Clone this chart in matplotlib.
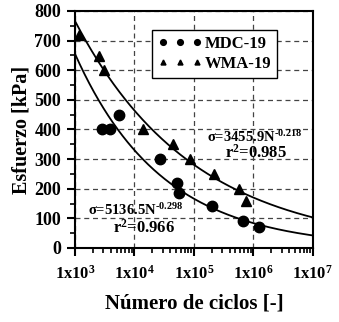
import numpy as np
import matplotlib
matplotlib.use("Agg")
import matplotlib.pyplot as plt
from matplotlib.ticker import FixedLocator, LogLocator, NullFormatter, MultipleLocator

plt.rcParams['font.family'] = ['Liberation Serif', 'DejaVu Serif']
plt.rcParams['font.weight'] = 'bold'
plt.rcParams['mathtext.fontset'] = 'custom'
plt.rcParams['mathtext.rm'] = 'Liberation Serif:bold'
plt.rcParams['mathtext.bf'] = 'Liberation Serif:bold'
plt.rcParams['mathtext.it'] = 'Liberation Serif:bold:italic'

# MDC-19 data (circles)
mdc_n = [2.9e3, 3.9e3, 5.5e3, 2.7e4, 5.1e4, 5.6e4, 2.05e5, 6.7e5, 1.26e6]
mdc_s = [400, 400, 450, 300, 220, 185, 140, 92, 70]
# WMA-19 data (triangles)
wma_n = [1.17e3, 2.5e3, 3.1e3, 1.4e4, 4.5e4, 8.7e4, 2.2e5, 5.8e5, 7.4e5]
wma_s = [720, 648, 600, 400, 350, 300, 250, 200, 160]

# fitted power laws
mdc_a, mdc_b = 5136.5, -0.298
wma_a, wma_b = 3455.9, -0.218

xticks = [1e3, 1e4, 1e5, 1e6, 1e7]
xtick_labels = [r'$\mathregular{1x10^{%d}}$' % e for e in range(3, 8)]

fig = plt.figure(figsize=(3.39, 3.22), dpi=100)
ax = fig.add_axes([0.221, 0.230, 0.702, 0.736])

nn = np.logspace(3, 7, 300)
ax.plot(nn, wma_a * nn ** wma_b, color='black', lw=1.3)
ax.plot(nn, mdc_a * nn ** mdc_b, color='black', lw=1.3)

ax.plot(mdc_n, mdc_s, 'o', color='black', ms=7.5, label='MDC-19', zorder=3)
ax.plot(wma_n, wma_s, '^', color='black', ms=6.5, label='WMA-19', zorder=3)

ax.set_xscale('log')
ax.set_xlim(1e3, 1e7)
ax.set_ylim(0, 800)
ax.xaxis.set_major_locator(FixedLocator(xticks))
ax.set_xticklabels(xtick_labels)
ax.xaxis.set_minor_locator(LogLocator(base=10, subs=np.arange(2, 10), numticks=20))
ax.xaxis.set_minor_formatter(NullFormatter())
ax.yaxis.set_major_locator(MultipleLocator(100))
ax.yaxis.set_minor_locator(MultipleLocator(50))

ax.grid(True, which='major', color='#444444', ls=(0, (4, 3)), lw=0.9)
for sp in ax.spines.values():
    sp.set_linewidth(1.5)
ax.tick_params(which='major', direction='out', length=6, width=1.5, labelsize=12, pad=6)
ax.tick_params(axis='y', which='major', labelsize=13, pad=4)
ax.tick_params(which='minor', direction='out', length=3.5, width=1.2)

ax.set_xlabel('Número de ciclos [-]', fontsize=15, fontweight='bold', labelpad=8)
ax.set_ylabel('Esfuerzo [kPa]', fontsize=14.5, fontweight='bold', labelpad=2)

ax.text(1.63e5, 376, r'σ=3455.9N$^{\text{-0.218}}$', fontsize=10.5, ha='left', va='center')
ax.text(3.3e5, 320, r'r$^{\mathregular{2}}$=0.985', fontsize=12, ha='left', va='center')
ax.text(1.65e3, 128, r'σ=5136.5N$^{\text{-0.298}}$', fontsize=10.5, ha='left', va='center')
ax.text(4.36e3, 67, r'r$^{\mathregular{2}}$=0.966', fontsize=12, ha='left', va='center')

leg = ax.legend(loc='upper left', bbox_to_anchor=(0.326, 0.92), numpoints=3,
                markerscale=0.55, fontsize=12, frameon=True, fancybox=False,
                edgecolor='black', framealpha=1, handlelength=2.6,
                handletextpad=0.2, borderpad=0.35, labelspacing=0.25,
                borderaxespad=0)
leg.get_frame().set_linewidth(1.0)

fig.savefig('out.png', dpi=100)
